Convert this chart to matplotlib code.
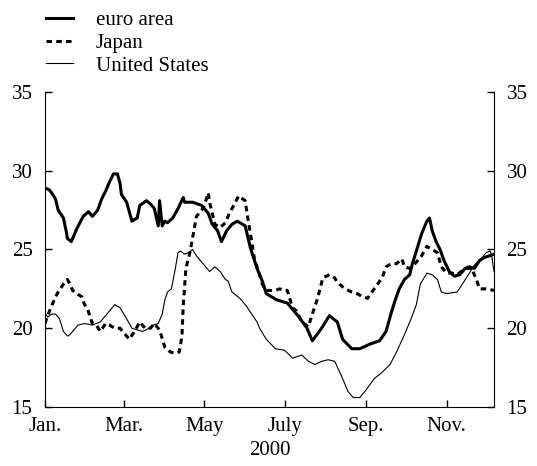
import pandas as pd
import matplotlib
matplotlib.use("Agg")
import matplotlib.pyplot as plt

# days since 1 Jan 2000, and implied volatility (%)
euro_days = [0, 3, 5, 8, 10, 14, 16, 17, 20, 24, 29, 33, 34, 36, 40, 43, 46, 49, 52, 55,
             57, 58, 62, 66, 70, 72, 77, 80, 83, 86, 87, 89, 91, 93, 97, 101, 105, 106, 112, 119,
             124, 127, 131, 134, 138, 142, 146, 152, 156, 161, 165, 168, 176, 184, 188, 193, 199, 203, 210, 216,
             222, 226, 233, 239, 247, 254, 259, 263, 266, 269, 273, 277, 279, 282, 286, 290, 292, 294, 297, 300,
             303, 307, 311, 315, 319, 322, 326, 330, 334, 341]
euro_vals = [28.9, 28.8, 28.6, 28.2, 27.5, 27.0, 26.2, 25.7, 25.5, 26.3, 27.1, 27.4, 27.3, 27.1, 27.5, 28.2, 28.7, 29.3, 29.8, 29.8,
             29.2, 28.5, 28.0, 26.8, 27.0, 27.8, 28.1, 27.9, 27.6, 26.5, 28.1, 26.5, 26.8, 26.7, 27.0, 27.6, 28.3, 28.0, 28.0, 27.8,
             27.3, 26.6, 26.2, 25.5, 26.2, 26.6, 26.8, 26.5, 25.1, 23.8, 23.0, 22.2, 21.8, 21.6, 21.2, 20.7, 20.0, 19.2, 20.0, 20.8,
             20.4, 19.3, 18.7, 18.7, 19.0, 19.2, 19.8, 21.0, 21.8, 22.5, 23.1, 23.4, 24.1, 24.9, 26.0, 26.8, 27.0, 26.2, 25.5, 25.0,
             24.3, 23.6, 23.3, 23.4, 23.8, 23.9, 23.8, 24.3, 24.5, 24.7]

japan_days = [0, 2, 5, 8, 10, 14, 17, 19, 21, 24, 28, 30, 32, 34, 36, 39, 42, 46, 49, 53,
              57, 61, 64, 68, 72, 76, 80, 83, 87, 91, 95, 99, 102, 104, 105, 107, 110, 112, 115, 119,
              121, 124, 125, 127, 129, 133, 137, 140, 144, 147, 152, 154, 157, 159, 163, 165, 168, 175, 178, 184,
              188, 191, 195, 200, 203, 207, 211, 216, 220, 222, 228, 233, 237, 241, 245, 250, 256, 259, 263, 267,
              271, 273, 277, 281, 286, 290, 294, 298, 301, 305, 309, 313, 319, 324, 328, 330, 335, 341]
japan_vals = [20.3, 20.8, 21.4, 22.0, 22.3, 22.8, 23.1, 22.8, 22.4, 22.2, 22.0, 21.5, 21.3, 20.8, 20.3, 20.2, 19.8, 20.3, 20.2, 20.0,
              20.0, 19.6, 19.3, 19.8, 20.4, 20.0, 20.0, 20.3, 19.9, 18.8, 18.5, 18.4, 18.5, 19.5, 21.5, 23.8, 24.8, 25.7, 27.1, 27.5,
              27.8, 28.6, 28.0, 27.3, 26.6, 26.4, 26.7, 27.3, 27.9, 28.4, 28.1, 27.0, 25.5, 24.4, 23.4, 22.8, 22.4, 22.4, 22.5, 22.4,
              21.3, 21.1, 20.4, 20.1, 20.9, 21.9, 23.2, 23.4, 23.2, 22.9, 22.5, 22.3, 22.2, 22.0, 21.9, 22.5, 23.2, 23.9, 24.1, 24.1,
              24.4, 23.9, 23.8, 24.1, 24.6, 25.2, 25.0, 24.8, 23.9, 23.5, 23.5, 23.4, 23.8, 23.8, 23.0, 22.5, 22.5, 22.4]

us_days = [0, 2, 5, 8, 11, 14, 17, 19, 23, 25, 30, 36, 42, 47, 51, 53, 57, 62, 66, 70,
           74, 77, 82, 86, 89, 91, 93, 96, 99, 101, 103, 106, 109, 112, 115, 120, 125, 129, 133, 137,
           139, 142, 148, 153, 157, 161, 163, 168, 175, 182, 188, 195, 200, 205, 210, 215, 220, 225, 230, 234,
           239, 244, 250, 256, 262, 267, 273, 278, 282, 285, 290, 294, 298, 301, 305, 313, 320, 326, 332, 335,
           338, 339, 341]
us_vals = [21.0, 20.7, 20.9, 20.9, 20.6, 19.8, 19.5, 19.6, 20.0, 20.2, 20.3, 20.2, 20.4, 20.9, 21.3, 21.5, 21.3, 20.6, 20.0, 19.9,
           19.8, 19.9, 20.2, 20.3, 20.9, 21.8, 22.3, 22.5, 23.8, 24.8, 24.9, 24.7, 24.8, 25.0, 24.6, 24.1, 23.6, 23.9, 23.6, 23.1,
           23.0, 22.3, 21.9, 21.4, 20.9, 20.4, 20.0, 19.3, 18.7, 18.6, 18.1, 18.3, 17.9, 17.7, 17.9, 18.0, 17.9, 17.0, 16.0, 15.6,
           15.6, 16.1, 16.8, 17.2, 17.7, 18.5, 19.6, 20.6, 21.5, 22.8, 23.5, 23.4, 23.1, 22.3, 22.2, 22.3, 23.2, 24.0, 24.5, 24.8,
           24.9, 24.7, 23.6]

tick_dates = ["2000-01-01", "2000-03-01", "2000-05-01", "2000-07-01", "2000-09-01", "2000-11-01"]
tick_labels = ["Jan.", "Mar.", "May", "July", "Sep.", "Nov."]

plt.rcParams["font.family"] = ["Liberation Serif", "DejaVu Serif"]
plt.rcParams["font.size"] = 15

start = pd.Timestamp("2000-01-01")


def to_dates(days):
    return start + pd.to_timedelta(days, unit="D")


fig = plt.figure(figsize=(5.37, 4.66), dpi=100)
ax = fig.add_axes([0.0838, 0.1266, 0.8362, 0.676])

ax.plot(to_dates(euro_days), euro_vals, color="black", lw=2.2, label="euro area")
ax.plot(to_dates(japan_days), japan_vals, color="black", lw=2.2,
        linestyle=(0, (1.8, 1.4)), label="Japan")
ax.plot(to_dates(us_days), us_vals, color="black", lw=0.8, label="United States")

ax.set_xlim(start, start + pd.Timedelta(days=341))
ax.set_ylim(15, 35)
ax.set_yticks([15, 20, 25, 30, 35])
ax.set_xticks(pd.to_datetime(tick_dates))
ax.set_xticklabels(tick_labels)
ax.set_xlabel("2000", labelpad=4)

ax.spines["top"].set_visible(False)
ax.tick_params(axis="y", direction="in", length=5, width=1, left=True, right=True,
               labelleft=True, labelright=True, pad=9)
ax.tick_params(axis="x", direction="in", length=5, width=1, pad=7)

fig.legend(loc="upper left", bbox_to_anchor=(0.07, 0.995), frameon=False,
           handlelength=1.3, handletextpad=1.1, labelspacing=0.15, borderaxespad=0)

fig.savefig("out.png", dpi=100)
